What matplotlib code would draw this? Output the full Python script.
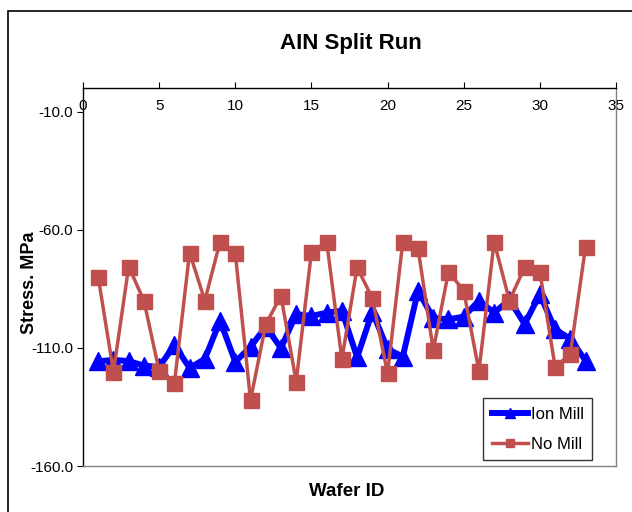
import numpy as np
import matplotlib
matplotlib.use('Agg')
import matplotlib.pyplot as plt
from matplotlib.patches import Rectangle

plt.rcParams['font.family'] = ['Liberation Sans', 'DejaVu Sans']

# wafer ids and stress values (MPa)
wafer = list(range(1, 34))
ion_mill = [-115.7, -115.1, -115.6, -117.5, -118.1, -108.8, -118.5, -114.7, -98.5, -115.9,
            -109.6, -101.0, -110.1, -95.7, -96.5, -95.1, -94.3, -114.0, -94.7, -110.5,
            -113.7, -85.8, -97.4, -97.9, -96.8, -90.0, -95.1, -89.7, -99.9, -87.3,
            -102.1, -106.2, -115.4]
no_mill = [-80.1, -120.1, -75.6, -90.0, -119.8, -125.0, -69.7, -90.0, -65.1, -70.0,
           -132.1, -100.0, -88.0, -124.3, -69.5, -65.1, -114.8, -75.9, -89.0, -120.8,
           -65.1, -67.9, -110.9, -77.8, -85.8, -119.8, -65.1, -90.0, -75.9, -77.8,
           -118.0, -112.7, -67.2]
yticks = [-160, -110, -60, -10]
xticks = [0, 5, 10, 15, 20, 25, 30, 35]

fig = plt.figure(figsize=(6.32, 5.12), dpi=100)
ax = fig.add_axes([83/632, 46/512, 533/632, 378/512])

ax.plot(wafer, ion_mill, color='#0000FF', lw=4.3, marker='^', ms=13.5,
        mec='#0000FF', label='Ion Mill', zorder=3)
ax.plot(wafer, no_mill, color='#C0504D', lw=2.5, marker='s', ms=10.8,
        mec='#C0504D', label='No Mill', zorder=4)

ax.set_xlim(0, 35)
ax.set_ylim(-160, 0)
ax.set_xticks(xticks)
ax.set_yticks(yticks)
ax.set_yticklabels(['%.1f' % v for v in yticks])

ax.tick_params(axis='x', top=True, bottom=False, labeltop=True, labelbottom=False,
               direction='out', length=4, pad=-22, labelsize=11)
ax.tick_params(axis='y', direction='out', length=4, labelsize=11, pad=3)

ax.spines['left'].set_color('black')
ax.spines['top'].set_color('black')
ax.spines['right'].set_color('#808080')
ax.spines['bottom'].set_color('#808080')
for s in ax.spines.values():
    s.set_linewidth(1)

leg = ax.legend(loc='lower right', bbox_to_anchor=(0.955, 0.016), borderaxespad=0,
                fontsize=12, frameon=True, fancybox=False, edgecolor='black',
                handlelength=2.2, handletextpad=0.15, borderpad=0.5,
                labelspacing=0.9, markerscale=0.55)
leg.get_frame().set_linewidth(1)

fig.text(351/632, 1 - 43/512, 'AIN Split Run', ha='center', va='center',
         fontsize=16, fontweight='bold')
fig.text(347/632, 1 - 492/512, 'Wafer ID', ha='center', va='center',
         fontsize=13.5, fontweight='bold')
fig.text(30/632, 1 - 283/512, 'Stress. MPa', ha='center', va='center',
         fontsize=13, fontweight='bold', rotation=90)

# outer chart frame (only left and top edges visible)
fig.add_artist(Rectangle((8/632, -0.1), 1.2, (512 - 11)/512 + 0.1,
                         transform=fig.transFigure, fill=False,
                         edgecolor='black', lw=1.2))

fig.savefig('out.png', dpi=100)
